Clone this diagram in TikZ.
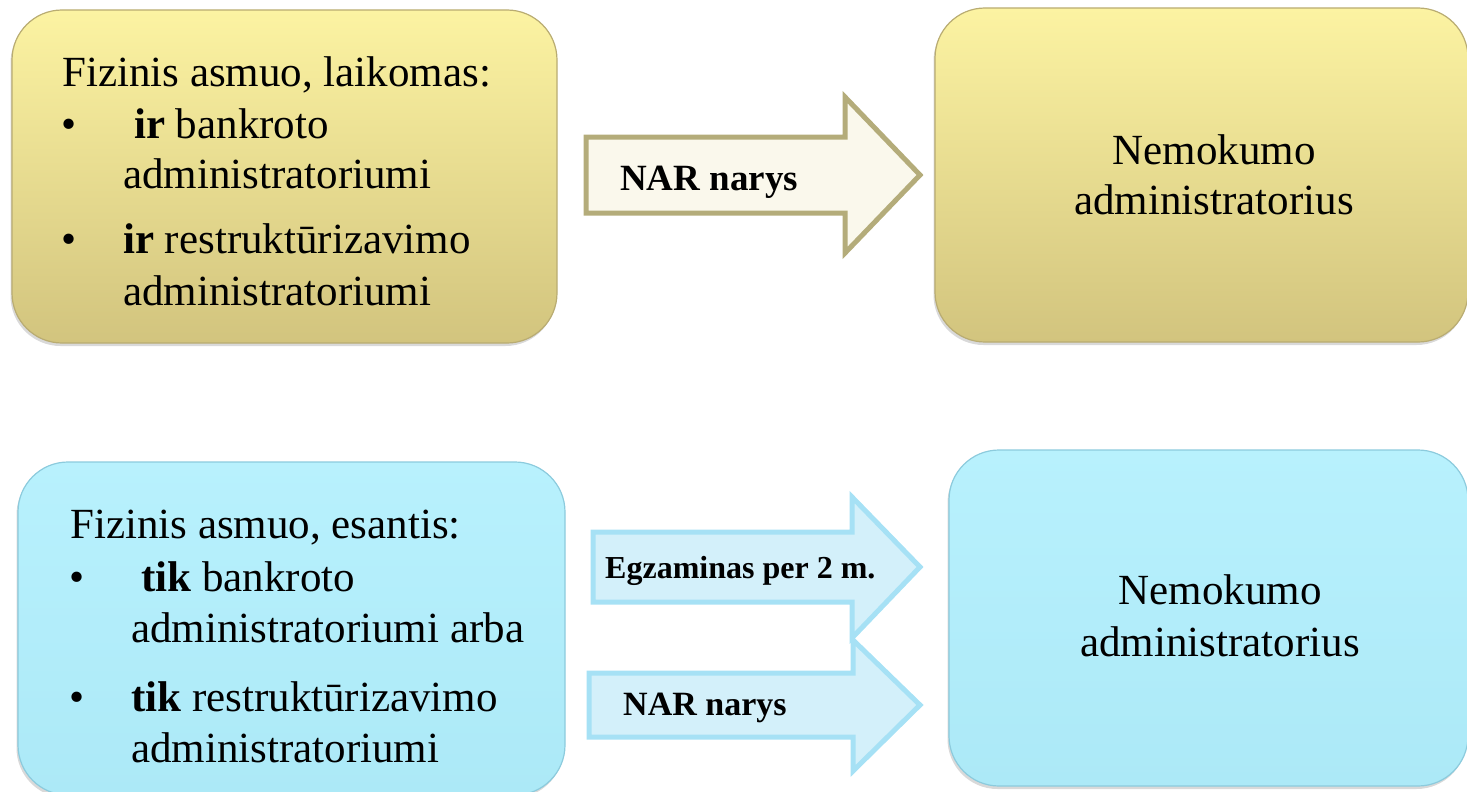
\documentclass[tikz,border=0pt]{standalone}
\usepackage{fontspec}
\setmainfont{Liberation Serif}
\usetikzlibrary{shadows}
\definecolor{ytop}{HTML}{FCF3A2}
\definecolor{ybot}{HTML}{D2C47E}
\definecolor{yedge}{HTML}{B9AC72}
\definecolor{btop}{HTML}{B8F1FD}
\definecolor{bbot}{HTML}{ACE9F7}
\definecolor{bedge}{HTML}{8CCBDD}
\definecolor{yafill}{HTML}{FAF8EC}
\definecolor{yaedge}{HTML}{B4AC7A}
\definecolor{bafill}{HTML}{D3F0FA}
\definecolor{baedge}{HTML}{A6E1F5}
\tikzset{
  boxbase/.style={rectangle, rounded corners=50pt, line width=1.2pt, inner sep=0pt,
    drop shadow={opacity=0.3, shadow xshift=-1.5pt, shadow yshift=-3pt}},
  ybox/.style={boxbase, draw=yedge, top color=ytop, bottom color=ybot},
  bbox/.style={boxbase, draw=bedge, top color=btop, bottom color=bbot},
  txt/.style={anchor=base west, inner sep=0pt, font=\fontsize{43}{50}\selectfont},
  ctxt/.style={anchor=base, inner sep=0pt, font=\fontsize{43}{50}\selectfont},
  yarrow/.style={draw=yaedge, fill=yafill, line width=5pt, miter limit=10},
  barrow/.style={draw=baedge, fill=bafill, line width=5pt, miter limit=10},
  atxt/.style={anchor=base west, inner sep=0pt, font=\bfseries\fontsize{#1}{#1}\selectfont},
}
\begin{document}
\begin{tikzpicture}[x=1pt, y=-1pt]
\useasboundingbox (0,0) rectangle (1467,792);
% boxes
\node[ybox, minimum width=545pt, minimum height=333pt] (tl) at (284.5,176.5) {};
\node[ybox, minimum width=533pt, minimum height=334pt] (tr) at (1201.5,175) {};
\node[bbox, minimum width=547pt, minimum height=333pt] (bl) at (291.5,628.5) {};
\node[bbox, minimum width=519pt, minimum height=336pt] (br) at (1208.5,618) {};
% top-left text
\node[txt] (t1) at (62,86) {Fizinis asmuo, laikomas:};
\node[txt] (t2b) at (61,138) {•};
\node[txt] (t2) at (134,138) {\textbf{ir} bankroto};
\node[txt] (t3) at (123,188) {administratoriumi};
\node[txt] (t4b) at (61,253) {•};
\node[txt] (t4) at (123,253) {\textbf{ir} restruktūrizavimo};
\node[txt] (t5) at (123,305) {administratoriumi};
% top-right text
\node[ctxt] (r1) at (1214,164) {Nemokumo};
\node[ctxt] (r2) at (1214,214) {administratorius};
% bottom-left text
\node[txt] (b1) at (70,538) {Fizinis asmuo, esantis:};
\node[txt] (b2b) at (69,591) {•};
\node[txt] (b2) at (141,591) {\textbf{tik} bankroto};
\node[txt] (b3) at (131,642) {administratoriumi arba};
\node[txt] (b4b) at (69,711) {•};
\node[txt] (b4) at (131,711) {\textbf{tik} restruktūrizavimo};
\node[txt] (b5) at (131,762) {administratoriumi};
% bottom-right text
\node[ctxt] (s1) at (1220,604) {Nemokumo};
\node[ctxt] (s2) at (1220,656) {administratorius};
% arrows
\draw[yarrow] (586,137) -- (845,137) -- (845,97) -- (920,175) -- (845,253) -- (845,213) -- (586,213) -- cycle;
\node[atxt=37] (a1) at (620,190) {NAR narys};
\draw[barrow] (593,532) -- (852,532) -- (852,497) -- (920,567) -- (852,638) -- (852,602) -- (593,602) -- cycle;
\node[atxt=32] (a2) at (605,578) {Egzaminas per 2 m.};
\draw[barrow] (589,673) -- (853,673) -- (853,640) -- (920,705) -- (853,771) -- (853,737) -- (589,737) -- cycle;
\node[atxt=34] (a3) at (623,715) {NAR narys};
\end{tikzpicture}
\end{document}
